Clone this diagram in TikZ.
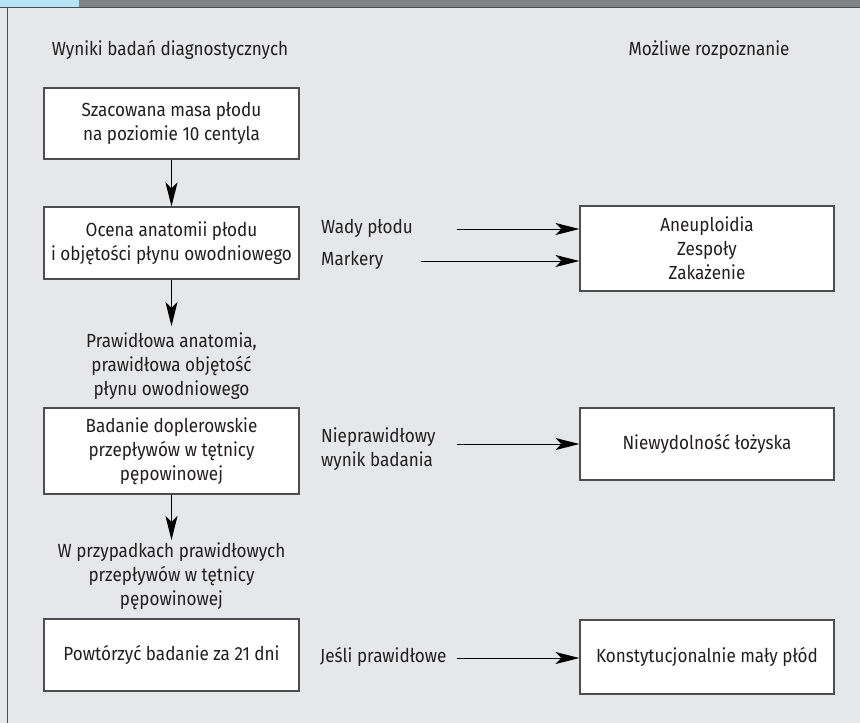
\documentclass[tikz,border=0pt]{standalone}
\usepackage{fontspec}
\setmainfont{Fira Sans}[FakeStretch=0.9]
\usetikzlibrary{arrows.meta}
\definecolor{bg}{HTML}{E6E7E8}
\definecolor{hdr}{HTML}{808285}
\definecolor{hblue}{HTML}{B5E3F7}
\definecolor{edge}{HTML}{4D4D4F}
\definecolor{ink}{HTML}{231F20}
\begin{document}
\begin{tikzpicture}[x=1pt,y=-1pt,
  every node/.style={font=\fontsize{19}{24}\selectfont, text=ink, inner sep=0pt},
  box/.style={draw=edge, line width=1.1pt, fill=white, align=center, minimum width=255pt},
  lbl/.style={align=center},
  side/.style={anchor=west, align=left},
  arr/.style={draw=black, line width=1pt, -{Stealth[length=24pt,width=12pt,inset=6pt]}}]
\useasboundingbox (0,0) rectangle (860,723);
% background and frame
\fill[bg] (0,0) rectangle (860,723);
\fill[hblue] (0,0) rectangle (79,7);
\fill[hdr] (79,0) rectangle (860,7);
\draw[edge, line width=1pt] (0,7.5) -- (860,7.5);
\draw[edge, line width=1pt] (7,7.5) -- (7,723);
% headings
\node[lbl] (h1) at (170,50) {Wyniki badań diagnostycznych};
\node[lbl] (h2) at (709,50) {Możliwe rozpoznanie};
% left column
\node[box, minimum height=71pt] (b1) at (171.5,123.5) {Szacowana masa płodu\\na poziomie 10 centyla};
\node[box, minimum height=72pt] (b2) at (171.5,243) {Ocena anatomii płodu\\i objętości płynu owodniowego};
\node[lbl] (t1) at (171.5,366) {Prawidłowa anatomia,\\prawidłowa objętość\\płynu owodniowego};
\node[box, minimum height=86pt] (b3) at (171.5,451) {Badanie doplerowskie\\przepływów w tętnicy\\pępowinowej};
\node[lbl] (t2) at (171.5,576) {W przypadkach prawidłowych\\przepływów w tętnicy\\pępowinowej};
\node[box, minimum height=72pt] (b4) at (171.5,655) {Powtórzyć badanie za 21 dni};
% right column
\node[box, minimum width=254pt, minimum height=85pt] (ra) at (707,248.5) {Aneuploidia\\Zespoły\\Zakażenie};
\node[box, minimum width=254pt, minimum height=72pt] (rb) at (707,444) {Niewydolność łożyska};
\node[box, minimum width=254pt, minimum height=74pt] (rc) at (707,657) {Konstytucjonalnie mały płód};
% middle labels
\node[side] (s1) at (321,228) {Wady płodu};
\node[side] (s2) at (321,260) {Markery};
\node[side] (s3) at (321,449) {Nieprawidłowy\\wynik badania};
\node[side] (s4) at (320,657) {Jeśli prawidłowe};
\coordinate (c1) at (457,229);
\coordinate (c2) at (421,261);
\coordinate (c3) at (457,444);
\coordinate (c4) at (457,658);
\coordinate (e1) at (171.5,326);
\coordinate (e2) at (171.5,540);
% connectors
\draw[arr] (b1.south) -- (b2.north);
\draw[arr] (b2.south) -- (e1);
\draw[arr] (b3.south) -- (e2);
\draw[arr] (c1) -- (ra.west |- c1);
\draw[arr] (c2) -- (ra.west |- c2);
\draw[arr] (c3) -- (rb.west |- c3);
\draw[arr] (c4) -- (rc.west |- c4);
\end{tikzpicture}
\end{document}
